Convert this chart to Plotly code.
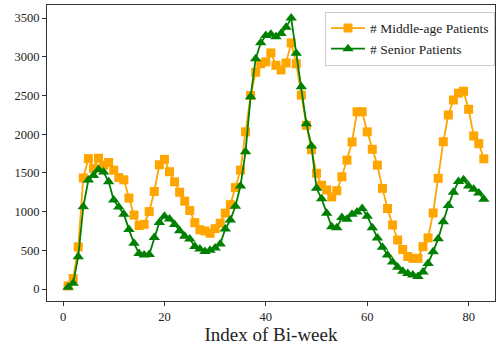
import plotly.graph_objects as go

# Bi-week index and patient counts per age group
biweek = list(range(1, 84))

middle_age = [
    40, 135, 545, 1435, 1685, 1560, 1690, 1600, 1635, 1535,
    1440, 1410, 1175, 955, 820, 835, 1000, 1260, 1605, 1675,
    1515, 1385, 1250, 1135, 1015, 857, 765, 750, 720, 780,
    850, 980, 1090, 1310, 1535, 2030, 2500, 2800, 2910, 2935,
    3050, 2890, 2830, 2920, 3180, 2910, 2505, 2115, 1800, 1495,
    1340, 1280, 1190, 1270, 1450, 1665, 1900, 2290, 2290, 2030,
    1805, 1600, 1300, 1040, 827, 633, 510, 420, 396, 396,
    547, 660, 982, 1430, 1903, 2248, 2442, 2530, 2555, 2322,
    1977, 1878, 1682,
]

senior = [
    22, 74, 417, 1063, 1408, 1465, 1545, 1510, 1386, 1150,
    1060, 967, 770, 590, 460, 440, 445, 665, 860, 940,
    905, 833, 752, 682, 646, 550, 518, 485, 500, 530,
    580, 775, 891, 1068, 1330, 1774, 2485, 2975, 3180, 3275,
    3290, 3260, 3300, 3380, 3500, 3045, 2614, 2135, 1848, 1301,
    1165, 978, 805, 790, 925, 900, 965, 995, 1040, 940,
    790, 660, 540, 440, 350, 280, 230, 200, 180, 160,
    220, 330, 480, 650, 870, 1080, 1250, 1390, 1410, 1330,
    1290, 1240, 1160,
]

series_names = ["# Middle-age Patients", "# Senior Patients"]
y_ticks = [0, 500, 1000, 1500, 2000, 2500, 3000, 3500]
x_ticks = [0, 20, 40, 60, 80]

SERIF = "Liberation Serif, Times New Roman, serif"

fig = go.Figure()
fig.add_trace(go.Scatter(
    x=biweek, y=middle_age, name=series_names[0], mode="lines+markers",
    line=dict(color="#FFA500", width=1.8),
    marker=dict(symbol="square", size=9, color="#FFA500"),
))
fig.add_trace(go.Scatter(
    x=biweek, y=senior, name=series_names[1], mode="lines+markers",
    line=dict(color="#008000", width=1.8),
    marker=dict(symbol="triangle-up", size=10, color="#008000"),
))

axis_common = dict(
    showgrid=False, zeroline=False, showline=True, mirror=True,
    linecolor="#333333", linewidth=1.2,
    ticks="outside", ticklen=4, tickwidth=1, tickcolor="#333333",
    tickfont=dict(family=SERIF, size=12.5, color="#222222"),
)

fig.update_xaxes(
    range=[-3.16, 85.2], tickvals=x_ticks,
    title=dict(text="Index of Bi-week", font=dict(family=SERIF, size=19, color="#222222"), standoff=4),
    **axis_common,
)
fig.update_yaxes(range=[-155, 3669], tickvals=y_ticks, **axis_common)

fig.update_layout(
    width=496, height=350,
    margin=dict(l=47, r=1, t=5, b=49),
    font=dict(family=SERIF, color="#222222"),
    plot_bgcolor="white", paper_bgcolor="white",
    legend=dict(
        x=1.0, y=0.977, xanchor="right", yanchor="top",
        bgcolor="white", bordercolor="#cccccc", borderwidth=1,
        font=dict(family=SERIF, size=13.5, color="#222222"),
        tracegroupgap=0, itemwidth=34,
    ),
)

fig.write_html("out.html")
